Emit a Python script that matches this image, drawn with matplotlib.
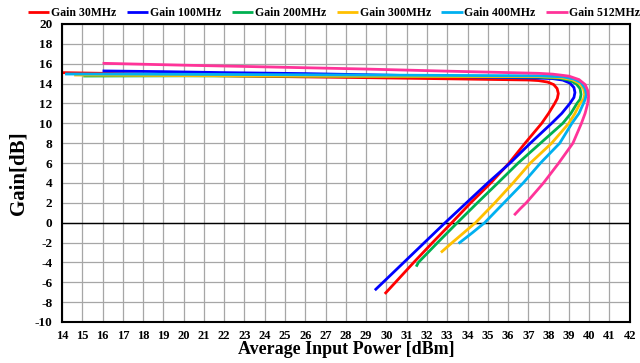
import matplotlib
matplotlib.use("Agg")
import matplotlib.pyplot as plt

series_names = ["Gain 30MHz", "Gain 100MHz", "Gain 200MHz", "Gain 300MHz", "Gain 400MHz", "Gain 512MHz"]
colors = ["#FF0000", "#0000FF", "#00B050", "#FFC000", "#00B0F0", "#FF3399"]

# (input power dBm, gain dB)
red_x = [14, 17, 20, 24, 28.8, 33, 37.0, 37.5, 37.95, 38.25, 38.42, 38.48, 38.43, 38.3, 38.0, 37.66, 36.84, 36.05, 35.15, 34.16, 33.23, 32.28, 31.35, 30.45, 29.92]
red_y = [15.1, 15.0, 14.85, 14.72, 14.6, 14.48, 14.36, 14.3, 14.15, 13.9, 13.5, 13.0, 12.5, 12.0, 11.0, 10.0, 8.0, 6.0, 4.0, 2.0, 0.0, -2.0, -4.0, -6.0, -7.17]

blue_x = [16, 19, 22, 26, 30, 34, 37.5, 38.2, 38.7, 39.05, 39.25, 39.3, 39.25, 39.05, 38.65, 38.15, 37.1, 36.1, 35.0, 33.95, 32.9, 31.88, 30.86, 29.84, 29.43]
blue_y = [15.27, 15.2, 15.1, 15.0, 14.85, 14.68, 14.55, 14.5, 14.35, 14.05, 13.6, 13.1, 12.6, 12.0, 11.0, 10.0, 8.0, 6.0, 4.0, 2.0, 0.0, -2.0, -4.0, -6.0, -6.8]

green_x = [15.05, 20, 26, 32, 37.5, 38.5, 39.0, 39.35, 39.55, 39.6, 39.55, 39.4, 39.1, 38.7, 37.6, 36.5, 35.5, 34.49, 33.5, 32.53, 31.58, 31.47]
green_y = [14.76, 14.78, 14.75, 14.72, 14.65, 14.55, 14.35, 14.0, 13.5, 12.9, 12.4, 12.0, 11.0, 10.0, 8.0, 6.0, 4.0, 2.0, 0.0, -2.0, -4.0, -4.43]

yellow_x = [14.6, 20, 26, 32, 37.5, 38.6, 39.15, 39.5, 39.72, 39.78, 39.72, 39.55, 39.3, 39.0, 38.15, 37.1, 36.25, 35.35, 34.4, 33.25, 32.69]
yellow_y = [14.86, 14.8, 14.75, 14.72, 14.7, 14.6, 14.4, 14.05, 13.5, 12.9, 12.4, 12.0, 11.0, 10.0, 8.0, 6.0, 4.0, 2.0, 0.0, -2.0, -3.0]

cyan_x = [14.15, 18, 24, 30, 37.5, 38.7, 39.25, 39.6, 39.8, 39.86, 39.8, 39.72, 39.5, 39.15, 38.55, 37.6, 36.75, 35.8, 34.85, 34.25, 33.56]
cyan_y = [14.96, 14.95, 14.9, 14.85, 14.78, 14.68, 14.45, 14.1, 13.5, 12.9, 12.4, 12.0, 11.0, 10.0, 8.0, 6.0, 4.0, 2.0, 0.0, -1.0, -2.1]

pink_x = [16, 20, 24, 28.8, 33, 37.5, 38.2, 39.0, 39.5, 39.8, 39.93, 39.97, 39.93, 39.8, 39.62, 39.2, 38.5, 37.75, 36.9, 36.6, 36.3]
pink_y = [16.04, 15.85, 15.68, 15.47, 15.25, 15.03, 14.95, 14.75, 14.4, 13.9, 13.3, 12.7, 12.0, 11.0, 10.0, 8.0, 6.0, 4.0, 2.0, 1.4, 0.75]

xs = [red_x, blue_x, green_x, yellow_x, cyan_x, pink_x]
ys = [red_y, blue_y, green_y, yellow_y, cyan_y, pink_y]

x_ticks = list(range(14, 43))
y_ticks = list(range(-10, 21, 2))

plt.rcParams['font.family'] = ['Liberation Serif', 'DejaVu Serif']
plt.rcParams['font.weight'] = 'bold'
plt.rcParams['axes.unicode_minus'] = False

fig = plt.figure(figsize=(6.4, 3.63), dpi=100)
ax = fig.add_axes([0.0969, 0.113, 0.887, 0.821])

for xv, yv, c, n in zip(xs, ys, colors, series_names):
    ax.plot(xv, yv, color=c, lw=2.0, label=n, solid_joinstyle='round', solid_capstyle='butt')

ax.axhline(0, color='black', lw=1.0, zorder=1.5)
ax.set_xlim(14, 42)
ax.set_ylim(-10, 20)
ax.set_xticks(x_ticks)
ax.set_yticks(y_ticks)
ax.grid(True, color='#A6A6A6', lw=0.9)
ax.set_axisbelow(True)
ax.tick_params(axis='x', length=0, labelsize=9, pad=6)
ax.tick_params(axis='y', length=0, labelsize=9.5, pad=7)
for lab in ax.get_xticklabels() + ax.get_yticklabels():
    lab.set_fontweight('bold')
for s in ax.spines.values():
    s.set_color('black')
    s.set_linewidth(1.5)

ax.set_xlabel("Average Input Power [dBm]", fontsize=13, fontweight='bold', labelpad=-1)
ax.set_ylabel("Gain[dB]", fontsize=15, fontweight='bold', labelpad=4)

fig.legend(loc='center', bbox_to_anchor=(0.522, 0.963), ncol=6, frameon=False,
           prop={'weight': 'bold', 'size': 8.5}, handlelength=1.8, handletextpad=0.15,
           columnspacing=0.9, borderaxespad=0)

fig.savefig("out.png", dpi=100)
